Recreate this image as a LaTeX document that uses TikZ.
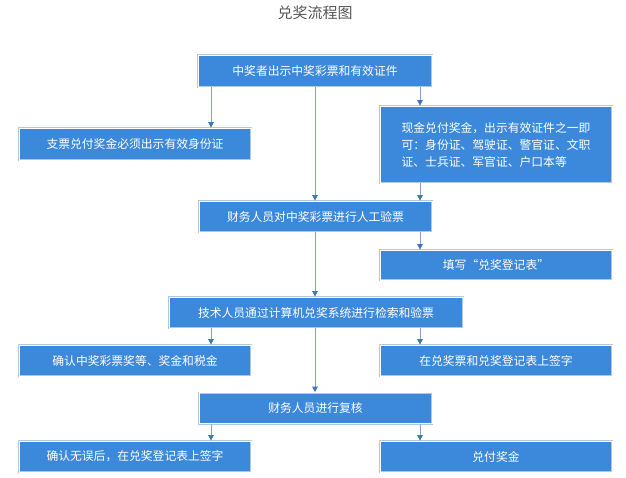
\documentclass[tikz,border=0pt]{standalone}
\usepackage{fontspec}
\newfontfamily\cjk{Noto Sans CJK SC}
\usetikzlibrary{arrows.meta}
\definecolor{boxblue}{HTML}{3C89DC}
\definecolor{boxedge}{HTML}{B3C8DE}
\definecolor{linegray}{HTML}{8AA3C2}
\definecolor{tipblue}{HTML}{3F78BA}
\definecolor{titlegray}{HTML}{555555}

\begin{document}
\begin{tikzpicture}[x=1pt,y=-1pt,
  box/.style={fill=boxblue, draw=boxedge, line width=0.7pt,
    double=white, double distance=0.6pt, text=white,
    inner sep=0pt, font=\cjk\fontsize{11.8}{17}\selectfont,
    minimum height=31pt, minimum width=232pt},
  arr/.style={draw=linegray, line width=0.8pt,
    -{Triangle[width=5.5pt,length=5.5pt,color=tipblue]}}]
\useasboundingbox (0,0) rectangle (626,478);
% columns of the arrows
\coordinate (colL) at (211,0);
\coordinate (colM) at (315,0);
\coordinate (colR) at (420,0);
\node [font=\cjk\fontsize{15}{18}\selectfont, text=titlegray] (title) at (315,13) {兑奖流程图};
\node [box, minimum width=234pt, minimum height=32pt] (show) at (315,71) {中奖者出示中奖彩票和有效证件};
\node [box, minimum height=32pt] (cheque) at (135,144) {支票兑付奖金必须出示有效身份证};
\node [box, minimum height=77pt, align=left] (cash) at (496,144.5)
  {现金兑付奖金，出示有效证件之一即\\可：身份证、驾驶证、警官证、文职\\证、士兵证、军官证、户口本等};
\node [box, minimum width=233pt] (manual) at (315.5,216.5) {财务人员对中奖彩票进行人工验票};
\node [box, minimum height=30pt] (form) at (496,265) {填写“兑奖登记表”};
\node [box, minimum width=294pt] (system) at (316,312.5) {技术人员通过计算机兑奖系统进行检索和验票};
\node [box] (confirm) at (135,360.5) {确认中奖彩票奖等、奖金和税金};
\node [box] (sign) at (496,360.5) {在兑奖票和兑奖登记表上签字};
\node [box, minimum width=233pt] (review) at (315.5,408) {财务人员进行复核};
\node [box] (signok) at (135,456.5) {确认无误后，在兑奖登记表上签字};
\node [box] (pay) at (496,456.5) {兑付奖金};
% connectors
\draw [arr] (show.south -| colL) -- (cheque.north -| colL);
\draw [arr] (show.south -| colR) -- (cash.north -| colR);
\draw [arr] (show.south -| colM) -- (manual.north -| colM);
\draw [arr] (cash.south -| colR) -- (manual.north -| colR);
\draw [arr] (manual.south -| colR) -- (form.north -| colR);
\draw [arr] (manual.south -| colM) -- (system.north -| colM);
\draw [arr] (system.south -| colL) -- (confirm.north -| colL);
\draw [arr] (system.south -| colR) -- (sign.north -| colR);
\draw [arr] (system.south -| colM) -- (review.north -| colM);
\draw [arr] (review.south -| colL) -- (signok.north -| colL);
\draw [arr] (review.south -| colR) -- (pay.north -| colR);
\end{tikzpicture}
\end{document}
